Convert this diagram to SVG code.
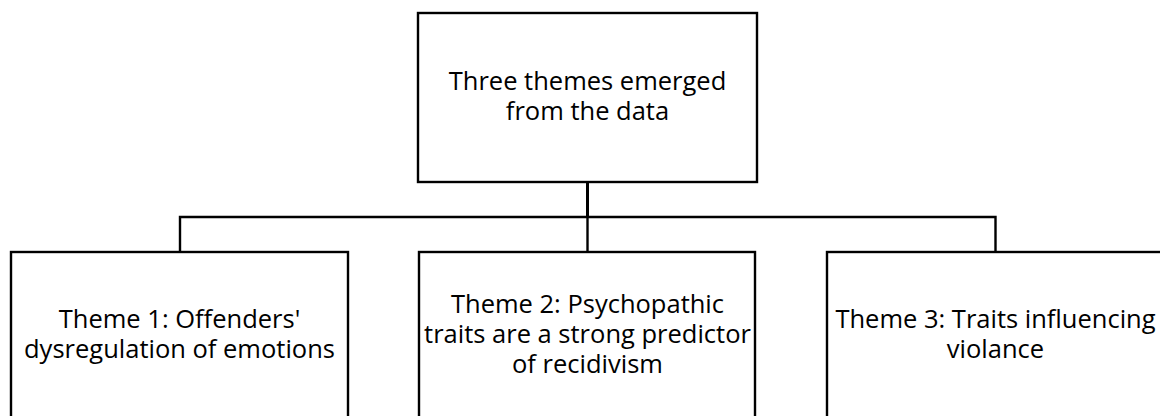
<svg xmlns="http://www.w3.org/2000/svg" width="1160" height="416" viewBox="0 0 1160 416">
<style>
.box{fill:#fff;stroke:#000;stroke-width:2.4}
.lbl{font-family:"Open Sans","Noto Sans",sans-serif;font-size:25.5px;fill:#000;text-anchor:middle}
.con{fill:none;stroke:#000;stroke-width:2.4}
</style>
<rect width="1160" height="416" fill="#fff"/>
<g id="connectors">
<line class="con" x1="587.5" y1="182" x2="587.5" y2="217" style="stroke-width:3"/>
<polyline class="con" points="180,252 180,217 995.5,217 995.5,252"/>
<line class="con" x1="587.5" y1="217" x2="587.5" y2="252"/>
</g>
<g id="root">
<rect class="box" x="418" y="13" width="339" height="169"/>
<text class="lbl" x="587.5" y="90">Three themes emerged<tspan x="587.5" dy="30">from the data</tspan></text>
</g>
<g id="theme1">
<rect class="box" x="11" y="252" width="337" height="170"/>
<text class="lbl" x="179.5" y="328">Theme 1: Offenders'<tspan x="179.5" dy="30">dysregulation of emotions</tspan></text>
</g>
<g id="theme2">
<rect class="box" x="419" y="252" width="336" height="170"/>
<text class="lbl" x="587.5" y="313">Theme 2: Psychopathic<tspan x="587.5" dy="30">traits are a strong predictor</tspan><tspan x="587.5" dy="30">of recidivism</tspan></text>
</g>
<g id="theme3">
<rect class="box" x="827" y="252" width="337" height="170"/>
<text class="lbl" x="995.5" y="328">Theme 3: Traits influencing<tspan x="995.5" dy="30">violance</tspan></text>
</g>
</svg>
